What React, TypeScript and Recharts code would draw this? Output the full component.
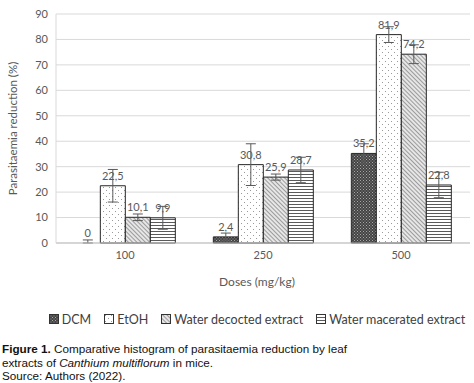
import React from 'react';
import { BarChart, Bar, XAxis, YAxis, CartesianGrid, Legend, ErrorBar, LabelList, Cell } from 'recharts';

const categories = ['100', '250', '500'];
const dcm = [0, 2.4, 35.2];
const dcmErr = [1.2, 1.5, 3.8];
const etoh = [22.5, 30.8, 81.9];
const etohErr = [6.4, 8.2, 3.1];
const decoct = [10.1, 25.9, 74.2];
const decoctErr = [1.3, 1.2, 3.7];
const macer = [9.9, 28.7, 22.8];
const macerErr = [4.5, 5.0, 5.0];
const yTicks = [0, 10, 20, 30, 40, 50, 60, 70, 80, 90];

const seriesNames = ['DCM', 'EtOH', 'Water decocted extract', 'Water macerated extract'];
const seriesKeys = ['dcm', 'etoh', 'decoct', 'macer'];
const seriesValues = [dcm, etoh, decoct, macer];
const patternIds = ['patDcm', 'patEtoh', 'patDecoct', 'patMacer'];

const err = (v: number, e: number) => [Math.min(v, e), e];

const data = categories.map((c, i) => ({
  dose: c,
  dcm: dcm[i],
  dcmErr: err(dcm[i], dcmErr[i]),
  etoh: etoh[i],
  etohErr: err(etoh[i], etohErr[i]),
  decoct: decoct[i],
  decoctErr: err(decoct[i], decoctErr[i]),
  macer: macer[i],
  macerErr: err(macer[i], macerErr[i]),
}));

const FONT = 'Lato, "Open Sans", sans-serif';
const GREY = '#595959';

const Patterns = () => (
  <defs>
    <pattern id="patDcm" width="3" height="3" patternUnits="userSpaceOnUse">
      <rect width="3" height="3" fill="#444444" />
      <rect x="0" y="0" width="1" height="1" fill="#a8a8a8" />
      <rect x="1.5" y="1.5" width="1" height="1" fill="#989898" />
    </pattern>
    <pattern id="patEtoh" width="6" height="6" patternUnits="userSpaceOnUse">
      <rect width="6" height="6" fill="#ffffff" />
      <rect x="1" y="1" width="1" height="1" fill="#9a9a9a" />
      <rect x="4" y="4" width="1" height="1" fill="#9a9a9a" />
    </pattern>
    <pattern id="patDecoct" width="3" height="3" patternUnits="userSpaceOnUse" patternTransform="rotate(-45)">
      <rect width="3" height="3" fill="#e6e6e6" />
      <line x1="0" y1="0" x2="0" y2="3" stroke="#7a7a7a" strokeWidth="1.4" />
    </pattern>
    <pattern id="patMacer" width="4" height="3" patternUnits="userSpaceOnUse">
      <rect width="4" height="3" fill="#ffffff" />
      <line x1="0" y1="0.5" x2="4" y2="0.5" stroke="#5a5a5a" strokeWidth="1" />
    </pattern>
  </defs>
);

const fmt = (v: any) => String(v).replace('.', ',');

const LegendContent = () => (
  <div style={{ display: 'flex', justifyContent: 'center', alignItems: 'center', height: 20, fontFamily: FONT, fontSize: 12.5, color: '#404040' }}>
    {seriesNames.map((n, i) => (
      <div key={n} style={{ display: 'flex', alignItems: 'center', marginRight: i < 3 ? 13 : 0 }}>
        <svg width="10" height="10" style={{ marginRight: 3 }}>
          <rect x="0.5" y="0.5" width="9" height="9" fill={`url(#${patternIds[i]})`} stroke="#333" strokeWidth="1" />
        </svg>
        <span>{n}</span>
      </div>
    ))}
  </div>
);

export default function App() {
  return (
    <div style={{ position: 'absolute', left: 0, top: 0, width: 474, height: 383, background: '#fff' }}>
      <BarChart
        width={474}
        height={340}
        data={data}
        margin={{ top: 14, right: 4, left: 0, bottom: 27 }}
        barCategoryGap="14%"
        barGap={0}
      >
        <Patterns />
        <CartesianGrid vertical={false} stroke="#d9d9d9" />
        <XAxis
          dataKey="dose"
          height={50}
          tickLine={false}
          axisLine={{ stroke: '#bfbfbf' }}
          tick={{ fill: GREY, fontSize: 11, fontFamily: FONT }}
          label={{ value: 'Doses (mg/kg)', position: 'insideBottom', offset: 7, dx: -6, fill: GREY, fontSize: 12, fontFamily: FONT }}
        />
        <YAxis
          width={56}
          domain={[0, 90]}
          ticks={yTicks}
          tickLine={false}
          axisLine={{ stroke: '#d9d9d9' }}
          tick={{ fill: GREY, fontSize: 11, fontFamily: FONT }}
          label={{ value: 'Parasitaemia reduction (%)', angle: -90, position: 'insideLeft', offset: 13, fill: GREY, fontSize: 11.5, fontFamily: FONT, style: { textAnchor: 'middle' } }}
        />
        <Legend verticalAlign="bottom" content={<LegendContent />} wrapperStyle={{ bottom: 11, left: 20, width: 474 }} />
        {seriesKeys.map((k, i) => (
          <Bar key={k} dataKey={k} name={seriesNames[i]} fill={`url(#${patternIds[i]})`} stroke="#262626" strokeWidth={1} minPointSize={0.01} isAnimationActive={false}>
            {seriesValues[i].map((v, j) => (
              <Cell key={j} stroke={v === 0 ? 'none' : '#262626'} />
            ))}
            <ErrorBar dataKey={`${k}Err`} width={5} stroke="#595959" strokeWidth={1} direction="y" />
            <LabelList dataKey={k} position="top" offset={6} formatter={fmt} fill={GREY} fontSize={11} fontFamily={FONT} />
          </Bar>
        ))}
      </BarChart>
      <div style={{ position: 'absolute', left: 2, top: 342, fontFamily: 'Arial, "Liberation Sans", sans-serif', fontSize: 11.7, lineHeight: '13.5px', color: '#111' }}>
        <div><b>Figure 1.</b> Comparative histogram of parasitaemia reduction by leaf</div>
        <div>extracts of <i>Canthium multiflorum</i> in mice.</div>
        <div>Source: Authors (2022).</div>
      </div>
    </div>
  );
}
